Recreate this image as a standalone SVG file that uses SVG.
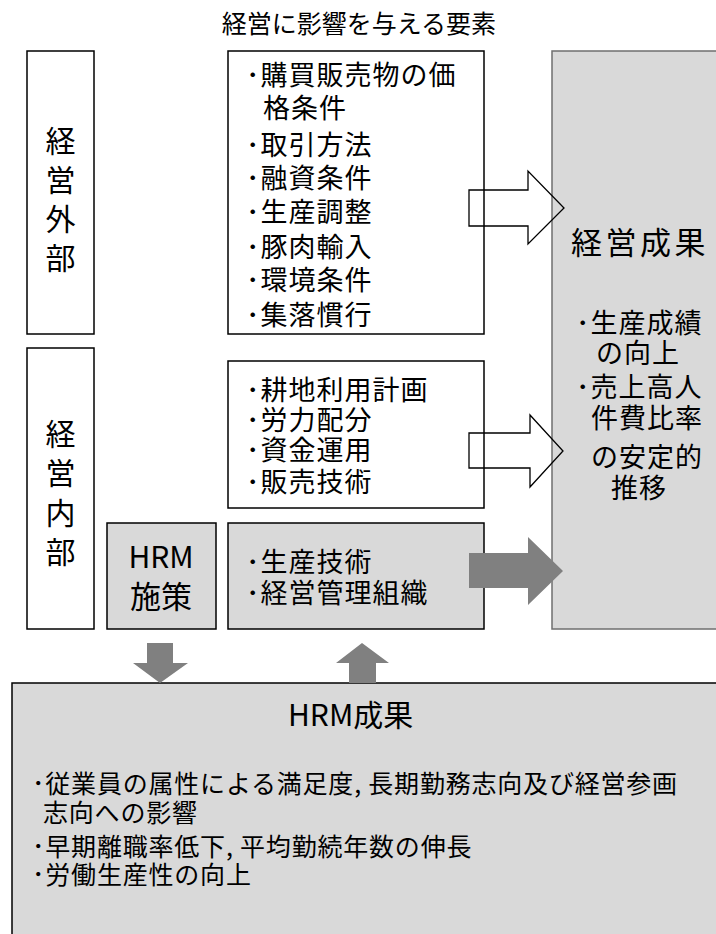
<svg xmlns="http://www.w3.org/2000/svg" width="716" height="934" viewBox="0 0 716 934">
<style>
text{font-family:"Noto Sans CJK JP","Noto Sans",sans-serif;fill:#000}
.box{fill:#fff;stroke:#000;stroke-width:1.5}
.gbox{fill:#d9d9d9;stroke:#000;stroke-width:1.5}
.rbox{fill:#d9d9d9;stroke:#6f6f6f;stroke-width:1.5}
.hollow{fill:none;stroke:#000;stroke-width:1.3;stroke-linejoin:miter}
.solid{fill:#808080;stroke:none}
.t27{font-size:27px;letter-spacing:1px}
.vert{font-size:30px;text-anchor:middle}
.big{font-size:31px;letter-spacing:3.5px}
.b25{font-size:25px;letter-spacing:0.8px}
</style>
<rect width="716" height="934" fill="#fff"/>
<g id="title"><text x="359" y="32.5" font-size="25" text-anchor="middle">経営に影響を与える要素</text></g>
<g id="outside">
<rect class="box" x="27" y="51" width="67" height="283"/>
<text class="vert" x="60.5" y="151.5">経</text>
<text class="vert" x="60.5" y="190.5">営</text>
<text class="vert" x="60.5" y="229.5">外</text>
<text class="vert" x="60.5" y="268.5">部</text>
</g>
<g id="inside">
<rect class="box" x="27" y="348" width="67" height="281"/>
<text class="vert" x="60.5" y="444.5">経</text>
<text class="vert" x="60.5" y="483.5">営</text>
<text class="vert" x="60.5" y="523.5">内</text>
<text class="vert" x="60.5" y="562.5">部</text>
</g>
<g id="external-factors">
<rect class="box" x="228" y="51" width="256" height="283"/>
<text class="t27" x="246" y="85">･購買販売物の価</text>
<text class="t27" x="263" y="118">格条件</text>
<text class="t27" x="246" y="155">･取引方法</text>
<text class="t27" x="246" y="188">･融資条件</text>
<text class="t27" x="246" y="222">･生産調整</text>
<text class="t27" x="246" y="257">･豚肉輸入</text>
<text class="t27" x="246" y="290">･環境条件</text>
<text class="t27" x="246" y="325">･集落慣行</text>
</g>
<g id="internal-factors">
<rect class="box" x="228" y="361" width="256" height="147"/>
<text class="t27" x="246" y="400">･耕地利用計画</text>
<text class="t27" x="246" y="430">･労力配分</text>
<text class="t27" x="246" y="460">･資金運用</text>
<text class="t27" x="246" y="492">･販売技術</text>
</g>
<g id="hrm-policy">
<rect class="gbox" x="107" y="523" width="109" height="106"/>
<text x="161" y="568" font-size="30" text-anchor="middle">HRM</text>
<text x="161" y="608" font-size="31" text-anchor="middle">施策</text>
</g>
<g id="tech-org">
<rect class="gbox" x="228" y="523" width="256" height="106"/>
<text class="t27" x="246" y="572">･生産技術</text>
<text class="t27" x="246" y="603">･経営管理組織</text>
</g>
<g id="results">
<rect class="rbox" x="552" y="51" width="170" height="578"/>
<text class="big" x="571" y="254">経営成果</text>
<text class="t27" x="576" y="333">･生産成績</text>
<text class="t27" x="596" y="363">の向上</text>
<text class="t27" x="576" y="397">･売上高人</text>
<text class="t27" x="591" y="428">件費比率</text>
<text class="t27" x="591" y="467">の安定的</text>
<text class="t27" x="611" y="498">推移</text>
</g>
<g id="hrm-results">
<rect class="gbox" x="12" y="683" width="712" height="260"/>
<text x="288" y="726" font-size="30">HRM成果</text>
<text class="b25" x="32" y="792.5">･従業員の属性による満足度, 長期勤務志向及び経営参画</text>
<text class="b25" x="43" y="821.5">志向への影響</text>
<text class="b25" x="32" y="855.5">･早期離職率低下, 平均勤続年数の伸長</text>
<text class="b25" x="32" y="883.5">･労働生産性の向上</text>
</g>
<g id="connectors">
<polygon class="hollow" points="469,190 528,190 528,171 564,208 528,244 528,226 469,226"/>
<polygon class="hollow" points="469,433 530,433 530,415 563,451 530,487 530,468 469,468"/>
<polygon class="solid" points="469,553 528,553 528,537 563,571 528,605 528,588 469,588"/>
<polygon class="solid" points="147,643 173,643 173,663 188,663 160,683 133,663 147,663"/>
<polygon class="solid" points="349,683 376,683 376,663 389,663 362,643 336,663 349,663"/>
</g>
</svg>
